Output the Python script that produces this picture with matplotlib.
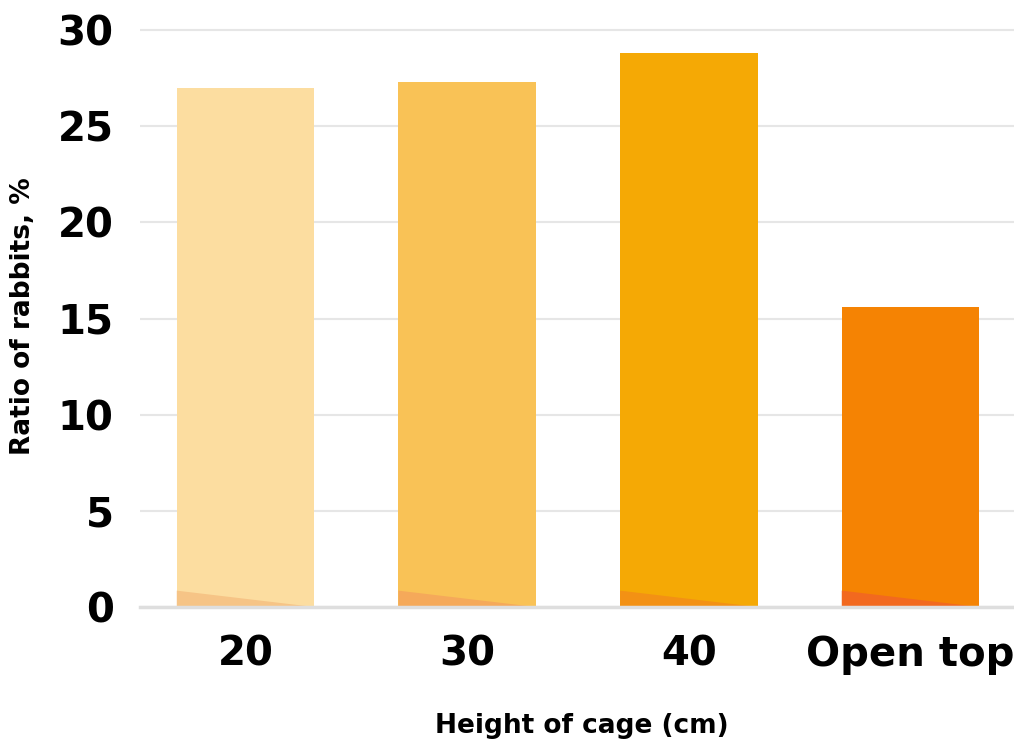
import matplotlib
matplotlib.use("Agg")
import matplotlib.pyplot as plt
from matplotlib.patches import Polygon

categories = ["20", "30", "40", "Open top"]
ratios = [27.0, 27.3, 28.8, 15.6]
bar_colors = ["#FCDDA0", "#F9C256", "#F5A905", "#F58303"]
shade_colors = ["#F6C486", "#F5A95A", "#F39114", "#F2691F"]
y_ticks = [0, 5, 10, 15, 20, 25, 30]

plt.rcParams["font.family"] = ["DejaVu Sans"]

W, H = 1014, 740
y_top = 30.1
px_per_unit = (607 - 30) / 30
fig = plt.figure(figsize=(W / 100, H / 100), dpi=100)
ax = fig.add_axes([140 / W, 1 - 607 / H, 1 - 140 / W, y_top * px_per_unit / H])

x = list(range(len(categories)))
width = 0.62
ax.bar(x, ratios, width=width, color=bar_colors, zorder=2)

# darker wedge at the foot of each bar
for xi, col in zip(x, shade_colors):
    left, right = xi - width / 2, xi + width / 2
    ax.add_patch(Polygon([(left, 0), (left, 0.85), (right, 0)],
                         closed=True, facecolor=col, edgecolor="none", zorder=3))

ax.set_xlim(-0.476, 3.467)
ax.set_ylim(0, y_top)
ax.set_yticks(y_ticks)
ax.set_xticks(x)
ax.set_xticklabels(categories)

ax.grid(axis="y", color="#E6E6E6", linewidth=1.5, zorder=0)
ax.set_axisbelow(True)
for s in ["top", "right", "left"]:
    ax.spines[s].set_visible(False)
ax.spines["bottom"].set_color("#DEDEDE")
ax.spines["bottom"].set_linewidth(2.5)
ax.spines["bottom"].set_zorder(4)
ax.tick_params(axis="both", length=0)
ax.tick_params(axis="y", pad=19, labelsize=29)
ax.tick_params(axis="x", pad=20, labelsize=29)
for lbl in ax.get_xticklabels() + ax.get_yticklabels():
    lbl.set_fontweight("bold")

fig.text(23 / W, 1 - 316 / H, "Ratio of rabbits, %", rotation=90,
         ha="center", va="center", fontsize=19, fontweight="bold")
fig.text(582 / W, 1 - 733 / H, "Height of cage (cm)",
         ha="center", va="baseline", fontsize=19, fontweight="bold")

fig.savefig("out.png", dpi=100)
